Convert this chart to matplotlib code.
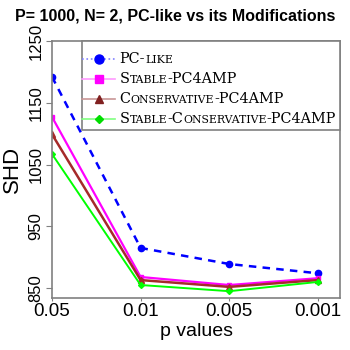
import matplotlib
matplotlib.use('Agg')
import matplotlib.pyplot as plt
from matplotlib.lines import Line2D
from matplotlib.offsetbox import (TextArea, HPacker, VPacker, DrawingArea,
                                  AnchoredOffsetbox)

plt.rcParams['font.family'] = ['Liberation Sans', 'DejaVu Sans']

p_labels = ['0.05', '0.01', '0.005', '0.001']
pc_like = [1192, 915, 889, 874]
stable = [1127, 868, 855, 866]
conservative = [1099, 863, 852, 863]
stable_cons = [1067, 855, 845, 860]

names = ['PC-like', 'Stable-PC4AMP', 'Conservative-PC4AMP',
         'Stable-Conservative-PC4AMP']

fig = plt.figure(figsize=(3.5, 3.5), dpi=100)
ax = fig.add_axes([0.1486, 0.1486, 0.8228, 0.7343])

x = range(1, len(p_labels) + 1)
ax.plot(x, pc_like, color='#0000ff', ls=(0, (3, 2.5)), lw=1.8,
        marker='o', ms=4.5)
ax.plot(x, stable, color='#ff00ff', lw=1.6, marker='s', ms=3.5)
ax.plot(x, conservative, color='#a52a2a', lw=1.8, marker='^', ms=4.5)
ax.plot(x, stable_cons, color='#00ff00', lw=1.4, marker='D', ms=3)

ax.set_xlim(1, 4.25)
ax.set_ylim(834, 1250)
ax.set_xticks(list(x))
ax.set_xticklabels(p_labels, fontsize=13.5)
ax.set_yticks([850, 950, 1050, 1150, 1250])
ax.set_yticklabels(['850', '950', '1050', '1150', '1250'], fontsize=12,
                   rotation=90, va='center')
ax.tick_params(axis='y', length=4, pad=2, color='gray')
ax.tick_params(axis='x', length=2, pad=1.5, color='gray')
for s in ax.spines.values():
    s.set_color('gray')
    s.set_linewidth(1.2)

ax.set_xlabel('p values', fontsize=14, labelpad=2.5)
ax.set_ylabel('SHD', fontsize=16, labelpad=4)
fig.suptitle('P= 1000, N= 2, PC-like vs its Modifications',
             fontsize=11.5, fontweight='bold', y=0.975)


def small_caps(s, big=10.4, small=7.85):
    runs = []
    for ch in s:
        lo = ch.islower()
        if runs and runs[-1][1] == lo:
            runs[-1][0] += ch
        else:
            runs.append([ch, lo])
    kids = [TextArea(t.upper(), textprops=dict(
        fontsize=small if lo else big, family='DejaVu Serif'))
        for t, lo in runs]
    return HPacker(children=kids, align='baseline', pad=0, sep=0)


leg_style = [
    ('#8080ff', '#0000ff', ':', 'o', 6.5),
    ('#ff99ff', '#ff00ff', '-', 's', 5.2),
    ('#c89696', '#802020', '-', '^', 6),
    ('#80ff80', '#00dd00', '-', 'D', 4),
]
rows = [DrawingArea(1, 0.5, 0, 0)]
for name, (lc, mc, ls, mk, ms) in zip(names, leg_style):
    da = DrawingArea(20, 10, 0, 0)
    da.add_artist(Line2D([-3, 21], [5, 5], color=lc, ls=ls, lw=1.2))
    da.add_artist(Line2D([9.5], [5], color=mc, marker=mk, ms=ms, ls=''))
    rows.append(HPacker(children=[da, small_caps(name)], align='center',
                        pad=0, sep=4))
box = VPacker(children=rows, align='left', pad=0, sep=4.3)
leg = AnchoredOffsetbox(loc='upper right', child=box, pad=0.3,
                        frameon=True, bbox_to_anchor=(1, 1),
                        bbox_transform=ax.transAxes, borderpad=0)
leg.patch.set_edgecolor('gray')
leg.patch.set_linewidth(1.2)
ax.add_artist(leg)

fig.savefig('out.png', dpi=100)
